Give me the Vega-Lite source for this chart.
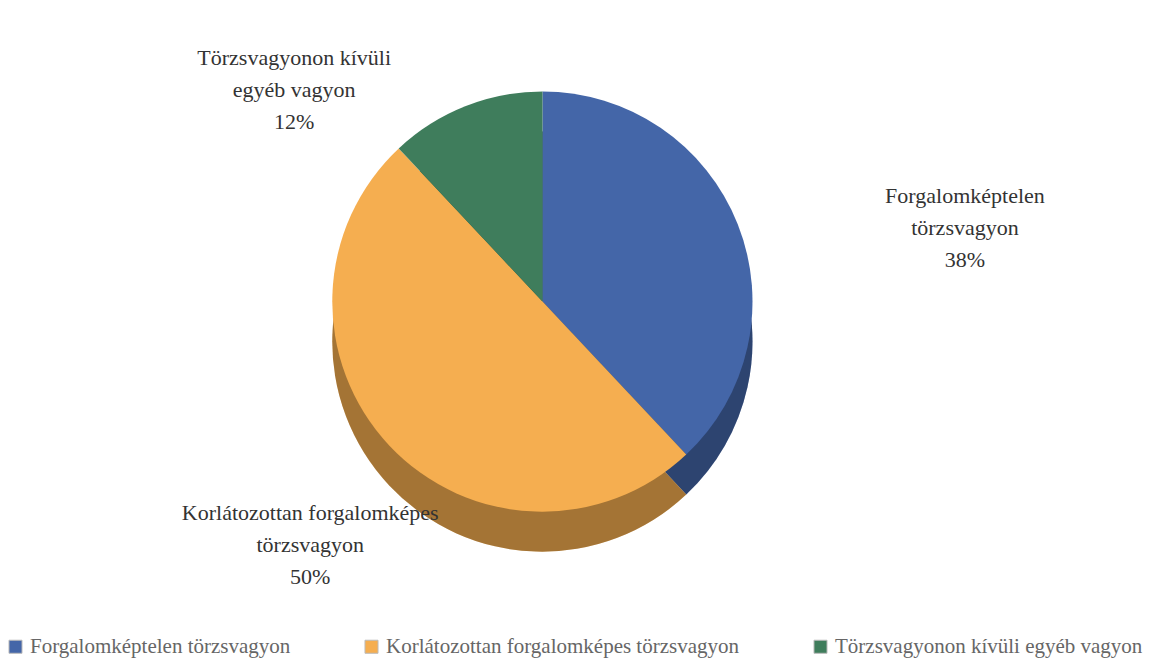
{
  "$schema": "https://vega.github.io/schema/vega-lite/v6.json",
  "width": 1165,
  "height": 662,
  "autosize": {"type": "fit", "contains": "padding"},
  "background": "white",
  "config": {"view": {"stroke": null}, "font": "Liberation Serif"},
  "data": {
    "values": [
      {"category": "Forgalomképtelen törzsvagyon", "share": 38, "order": 1, "label": "Forgalomképtelen\ntörzsvagyon\n38%"},
      {"category": "Korlátozottan forgalomképes törzsvagyon", "share": 50, "order": 2, "label": "Korlátozottan forgalomképes\ntörzsvagyon\n50%"},
      {"category": "Törzsvagyonon kívüli egyéb vagyon", "share": 12, "order": 3, "label": "Törzsvagyonon kívüli\negyéb vagyon\n12%"}
    ]
  },
  "encoding": {
    "theta": {"field": "share", "type": "quantitative", "stack": true},
    "order": {"field": "order", "type": "quantitative"},
    "color": {
      "field": "category", "type": "nominal",
      "scale": {"domain": ["Forgalomképtelen törzsvagyon", "Korlátozottan forgalomképes törzsvagyon", "Törzsvagyonon kívüli egyéb vagyon"], "range": ["#4466A8", "#F5AE50", "#3F7D5C"]},
      "legend": {
        "title": null, "orient": "bottom", "direction": "horizontal",
        "symbolType": "square", "symbolSize": 170, "symbolStrokeWidth": 1, "symbolStrokeColor": "#bbbbbb", "symbolOpacity": 1,
        "labelFont": "Liberation Serif", "labelFontSize": 21, "labelColor": "#666666",
        "columnPadding": 70, "labelLimit": 450, "padding": 0, "offset": 6
      }
    }
  },
  "layer": [
    {
      "mark": {"type": "arc", "outerRadius": 210, "xOffset": -40, "yOffset": 24}
    },
    {
      "mark": {"type": "arc", "outerRadius": 210, "xOffset": -40, "yOffset": 24, "fill": "#000000", "opacity": 0.33}
    },
    {
      "mark": {"type": "arc", "outerRadius": 210, "xOffset": -40, "yOffset": -16}
    },
    {
      "mark": {"type": "text", "radius": 250, "xOffset": -40, "yOffset": -16, "dx": 190, "dy": -13, "lineBreak": "\n", "font": "Liberation Serif", "fontSize": 22, "lineHeight": 32, "fill": "#333333"},
      "encoding": {"text": {"condition": {"test": "datum.order == 1", "field": "label"}, "value": ""}}
    },
    {
      "mark": {"type": "text", "radius": 250, "xOffset": -40, "yOffset": -16, "dx": -50, "dy": 40, "lineBreak": "\n", "font": "Liberation Serif", "fontSize": 22, "lineHeight": 32, "fill": "#333333"},
      "encoding": {"text": {"condition": {"test": "datum.order == 2", "field": "label"}, "value": ""}}
    },
    {
      "mark": {"type": "text", "radius": 240, "xOffset": -40, "yOffset": -16, "dx": -160, "dy": -20, "lineBreak": "\n", "font": "Liberation Serif", "fontSize": 22, "lineHeight": 32, "fill": "#333333"},
      "encoding": {"text": {"condition": {"test": "datum.order == 3", "field": "label"}, "value": ""}}
    }
  ]
}
